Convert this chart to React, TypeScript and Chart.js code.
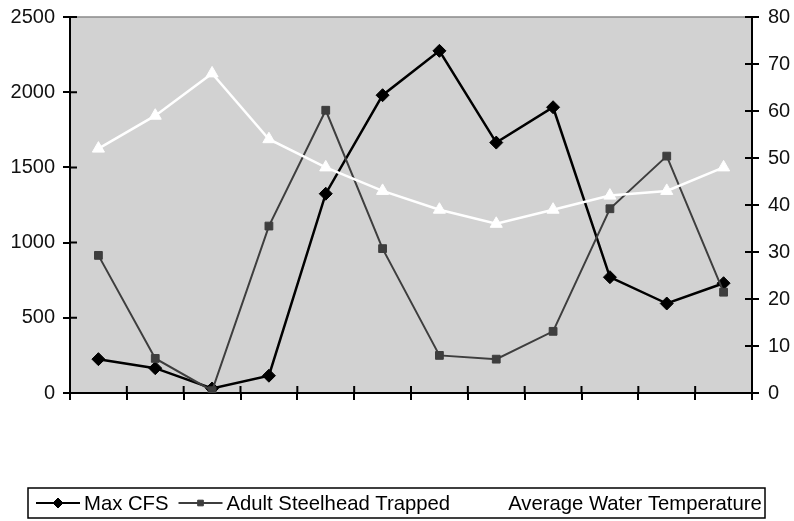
import React, { useEffect, useRef } from "react";
import { Chart, registerables } from "chart.js";

Chart.register(...registerables);

const categories = ["1", "2", "3", "4", "5", "6", "7", "8", "9", "10", "11", "12"];
const maxCfs = [225, 165, 30, 115, 1325, 1980, 2275, 1665, 1900, 770, 595, 730];
const steelheadTrapped = [915, 230, 15, 1110, 1880, 960, 250, 225, 410, 1225, 1575, 670];
const waterTemperature = [52, 59, 68, 54, 48, 43, 39, 36, 39, 42, 43, 48];
const leftTicks = [0, 500, 1000, 1500, 2000, 2500];
const rightTicks = [0, 10, 20, 30, 40, 50, 60, 70, 80];
const seriesNames = ["Max CFS", "Adult Steelhead Trapped", "Average Water Temperature"];

const FONT = "'Liberation Sans', Arial, sans-serif";

const plotBgPlugin = {
  id: "plotBg",
  beforeDraw(chart: any) {
    const { ctx, chartArea: a } = chart;
    ctx.save();
    ctx.fillStyle = "#d2d2d2";
    ctx.fillRect(a.left, a.top, a.right - a.left, a.bottom - a.top);
    ctx.strokeStyle = "#8a8a8a";
    ctx.lineWidth = 1.5;
    ctx.beginPath();
    ctx.moveTo(a.left, a.top);
    ctx.lineTo(a.right, a.top);
    ctx.stroke();
    ctx.restore();
  },
  beforeDatasetsDraw(chart: any) {
    const { ctx, chartArea: a, scales } = chart;
    ctx.save();
    ctx.strokeStyle = "#000";
    ctx.lineWidth = 2;
    ctx.beginPath();
    const n = categories.length;
    for (let i = 0; i <= n; i++) {
      const x = a.left + (i * (a.right - a.left)) / n;
      ctx.moveTo(x, a.bottom);
      ctx.lineTo(x, a.bottom - 7);
    }
    scales.y.ticks.forEach((t: any) => {
      const y = scales.y.getPixelForValue(t.value);
      ctx.moveTo(a.left, y);
      ctx.lineTo(a.left + 7, y);
    });
    scales.y1.ticks.forEach((t: any) => {
      const y = scales.y1.getPixelForValue(t.value);
      ctx.moveTo(a.right, y);
      ctx.lineTo(a.right - 7, y);
    });
    ctx.stroke();
    ctx.restore();
  },
};

function drawMarker(ctx: CanvasRenderingContext2D, style: string, x: number, y: number, r: number) {
  ctx.beginPath();
  if (style === "rectRot") {
    ctx.moveTo(x, y - r);
    ctx.lineTo(x + r, y);
    ctx.lineTo(x, y + r);
    ctx.lineTo(x - r, y);
  } else if (style === "rect") {
    const s = r * Math.SQRT1_2;
    ctx.rect(x - s, y - s, 2 * s, 2 * s);
  } else {
    ctx.moveTo(x, y - r);
    ctx.lineTo(x + r * 0.87, y + r / 2);
    ctx.lineTo(x - r * 0.87, y + r / 2);
  }
  ctx.closePath();
  ctx.fill();
  ctx.stroke();
}

const legendPlugin = {
  id: "customLegend",
  afterDraw(chart: any) {
    const { ctx } = chart;
    const boxL = 28, boxT = 488, boxR = 765, boxB = 518;
    const cy = 503;
    ctx.save();
    ctx.strokeStyle = "#000";
    ctx.lineWidth = 1.5;
    ctx.strokeRect(boxL, boxT, boxR - boxL, boxB - boxT);
    ctx.font = `20.3px ${FONT}`;
    ctx.textBaseline = "middle";
    let x = 36;
    chart.data.datasets.forEach((ds: any, i: number) => {
      ctx.strokeStyle = ds.borderColor;
      ctx.lineWidth = 2;
      ctx.beginPath();
      ctx.moveTo(x, cy);
      ctx.lineTo(x + 44, cy);
      ctx.stroke();
      ctx.fillStyle = ds.pointBackgroundColor;
      ctx.strokeStyle = ds.pointBorderColor;
      ctx.lineWidth = 1;
      drawMarker(ctx, ds.pointStyle, x + 22, cy, ds.pointRadius - 1.5);
      x += 48;
      ctx.fillStyle = "#000";
      ctx.fillText(seriesNames[i], x, cy + 1);
      x += ctx.measureText(seriesNames[i]).width + 10;
    });
    ctx.restore();
  },
};

export default function App() {
  const ref = useRef<HTMLCanvasElement>(null);
  useEffect(() => {
    document.body.style.margin = "0";
    const canvas = ref.current!;
    const chart = new Chart(canvas, {
      type: "line",
      data: {
        labels: categories,
        datasets: [
          {
            label: seriesNames[0],
            data: maxCfs,
            yAxisID: "y",
            borderColor: "#000",
            borderWidth: 2.5,
            pointStyle: "rectRot",
            pointRadius: 6.5,
            pointBackgroundColor: "#000",
            pointBorderColor: "#000",
            pointBorderWidth: 1,
            tension: 0,
            order: 3,
          },
          {
            label: seriesNames[1],
            data: steelheadTrapped,
            yAxisID: "y",
            borderColor: "#3e3e3e",
            borderWidth: 2,
            pointStyle: "rect",
            pointRadius: 5.5,
            pointBackgroundColor: "#3e3e3e",
            pointBorderColor: "#3e3e3e",
            pointBorderWidth: 1,
            tension: 0,
            order: 2,
          },
          {
            label: seriesNames[2],
            data: waterTemperature,
            yAxisID: "y1",
            borderColor: "#ffffff",
            borderWidth: 2.5,
            pointStyle: "triangle",
            pointRadius: 7,
            pointBackgroundColor: "#ffffff",
            pointBorderColor: "#ffffff",
            pointBorderWidth: 1,
            tension: 0,
            order: 1,
          },
        ],
      },
      options: {
        responsive: false,
        animation: false,
        layout: { padding: { top: 16, left: 0, right: 0, bottom: 0 } },
        plugins: { legend: { display: false }, tooltip: { enabled: false } },
        scales: {
          x: {
            type: "category",
            offset: true,
            grid: { offset: true, drawOnChartArea: false, tickLength: 7, color: "#000", lineWidth: 2 },
            border: { display: true, color: "#000", width: 2 },
            ticks: { display: false },
            afterFit(scale: any) {
              scale.height = 128;
            },
          },
          y: {
            position: "left",
            min: 0,
            max: 2500,
            afterBuildTicks(scale: any) {
              scale.ticks = leftTicks.map((v) => ({ value: v }));
            },
            grid: { drawOnChartArea: false, tickLength: 7, color: "#000", lineWidth: 2 },
            border: { display: true, color: "#000", width: 2 },
            ticks: {
              font: { family: FONT, size: 20, lineHeight: 0.8 },
              color: "#111",
              padding: 8,
              callback: (v: any) => String(v),
            },
            afterFit(scale: any) {
              scale.width = 70;
            },
          },
          y1: {
            position: "right",
            min: 0,
            max: 80,
            afterBuildTicks(scale: any) {
              scale.ticks = rightTicks.map((v) => ({ value: v }));
            },
            grid: { drawOnChartArea: false, tickLength: 7, color: "#000", lineWidth: 2 },
            border: { display: true, color: "#000", width: 2 },
            ticks: {
              font: { family: FONT, size: 20, lineHeight: 0.8 },
              color: "#111",
              padding: 9,
              callback: (v: any) => String(v),
            },
            afterFit(scale: any) {
              scale.width = 42;
            },
          },
        },
      },
      plugins: [plotBgPlugin, legendPlugin],
    } as any);
    return () => chart.destroy();
  }, []);
  return <canvas ref={ref} width={794} height={521} style={{ display: "block" }} />;
}
